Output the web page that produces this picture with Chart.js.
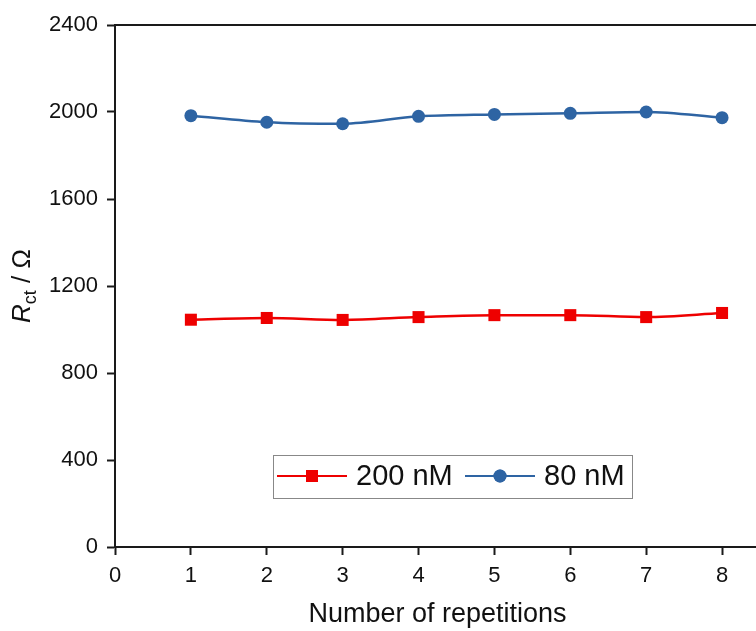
<!DOCTYPE html>
<html>
<head>
<meta charset="utf-8">
<script src="https://cdn.jsdelivr.net/npm/chart.js@4/dist/chart.umd.min.js"></script>
<style>
html,body{margin:0;padding:0;background:#fff;overflow:hidden;}
#wrap{position:absolute;left:0;top:0;width:800px;height:635px;}
</style>
</head>
<body>
<div id="wrap"><canvas id="c"></canvas></div>
<script>
const repetitions = [1, 2, 3, 4, 5, 6, 7, 8];
const series200nM = [1045, 1053, 1044, 1057, 1066, 1066, 1057, 1076];
const series80nM = [1983, 1953, 1946, 1980, 1989, 1994, 2000, 1974];
const seriesLabels = ['200 nM', '80 nM'];
const yTicks = [0, 400, 800, 1200, 1600, 2000, 2400];
const xTicks = [0, 1, 2, 3, 4, 5, 6, 7, 8];

const FONT = '"Liberation Sans", Arial, sans-serif';
const RED = '#ee0000';
const BLUE = '#2e64a3';
const AXIS = '#1a1a1a';

const framePlugin = {
  id: 'frame',
  afterDraw(chart) {
    const ctx = chart.ctx;
    const a = chart.chartArea;
    ctx.save();
    ctx.strokeStyle = AXIS;
    ctx.lineWidth = 2;
    ctx.beginPath();
    ctx.moveTo(a.left - 1, a.top);
    ctx.lineTo(a.right, a.top);
    ctx.stroke();

    ctx.fillStyle = '#111';
    ctx.translate(30, (a.top + a.bottom) / 2);
    ctx.rotate(-Math.PI / 2);
    ctx.textBaseline = 'alphabetic';
    const partR = 'R', partSub = 'ct', partRest = ' / Ω';
    ctx.font = 'italic 26px ' + FONT;
    const wR = ctx.measureText(partR).width;
    ctx.font = '18px ' + FONT;
    const wS = ctx.measureText(partSub).width;
    ctx.font = '26px ' + FONT;
    const wRest = ctx.measureText(partRest).width;
    let x0 = -(wR + wS + wRest) / 2;
    ctx.font = 'italic 26px ' + FONT;
    ctx.fillText(partR, x0, 0);
    x0 += wR;
    ctx.font = '18px ' + FONT;
    ctx.fillText(partSub, x0, 6);
    x0 += wS;
    ctx.font = '26px ' + FONT;
    ctx.fillText(partRest, x0, 0);
    ctx.restore();

    ctx.save();
    const bx = 273, by = 455, bw = 359, bh = 43;
    ctx.strokeStyle = '#888';
    ctx.lineWidth = 1;
    ctx.fillStyle = '#fff';
    ctx.fillRect(bx, by, bw, bh);
    ctx.strokeRect(bx + 0.5, by + 0.5, bw, bh);
    const cy = by + 21;
    const items = [
      {x: 277, label: seriesLabels[0], color: RED, style: 'rect', r: 8.5},
      {x: 465, label: seriesLabels[1], color: BLUE, style: 'circle', r: 6.5}
    ];
    items.forEach(it => {
      ctx.strokeStyle = it.color;
      ctx.lineWidth = 2;
      ctx.beginPath();
      ctx.moveTo(it.x, cy);
      ctx.lineTo(it.x + 70, cy);
      ctx.stroke();
      ctx.fillStyle = it.color;
      Chart.helpers.drawPoint(ctx, {pointStyle: it.style, radius: it.r, borderWidth: 0}, it.x + 35, cy);
      ctx.fill();
      ctx.fillStyle = '#111';
      ctx.font = '29px ' + FONT;
      ctx.textBaseline = 'middle';
      ctx.fillText(it.label, it.x + 79, cy + 1);
    });
    ctx.restore();
  }
};

new Chart(document.getElementById('c'), {
  type: 'line',
  data: {
    datasets: [
      {
        label: seriesLabels[0],
        data: repetitions.map((x, i) => ({x, y: series200nM[i]})),
        borderColor: RED,
        backgroundColor: RED,
        borderWidth: 2.5,
        pointStyle: 'rect',
        pointRadius: 8.5,
        pointBorderWidth: 0,
        tension: 0.4,
        cubicInterpolationMode: 'monotone'
      },
      {
        label: seriesLabels[1],
        data: repetitions.map((x, i) => ({x, y: series80nM[i]})),
        borderColor: BLUE,
        backgroundColor: BLUE,
        borderWidth: 2.5,
        pointStyle: 'circle',
        pointRadius: 6.5,
        pointBorderWidth: 0,
        tension: 0.4,
        cubicInterpolationMode: 'monotone'
      }
    ]
  },
  options: {
    responsive: true,
    maintainAspectRatio: false,
    animation: false,
    layout: {padding: {top: 25, right: 40, left: 0, bottom: 0}},
    plugins: {legend: {display: false}, tooltip: {enabled: false}},
    scales: {
      x: {
        type: 'linear',
        min: 0,
        max: 8.5,
        afterBuildTicks: s => { s.ticks = xTicks.map(v => ({value: v})); },
        afterFit: s => { s.height = 88; },
        grid: {drawOnChartArea: false, drawTicks: true, tickLength: 8, tickWidth: 2, color: AXIS},
        border: {color: AXIS, width: 2},
        ticks: {color: '#111', font: {family: FONT, size: 22}, padding: 8, maxRotation: 0, callback: v => String(v)},
        title: {display: true, text: 'Number of repetitions', color: '#111', font: {family: FONT, size: 27}, padding: {top: 9}}
      },
      y: {
        min: 0,
        max: 2400,
        afterBuildTicks: s => { s.ticks = yTicks.map(v => ({value: v})); },
        afterFit: s => { s.width = 115; },
        grid: {drawOnChartArea: false, drawTicks: true, tickLength: 8, tickWidth: 2, color: AXIS},
        border: {color: AXIS, width: 2},
        ticks: {color: '#111', font: {family: FONT, size: 22}, padding: 9, callback: v => String(v)}
      }
    }
  },
  plugins: [framePlugin]
});
</script>
</body>
</html>
